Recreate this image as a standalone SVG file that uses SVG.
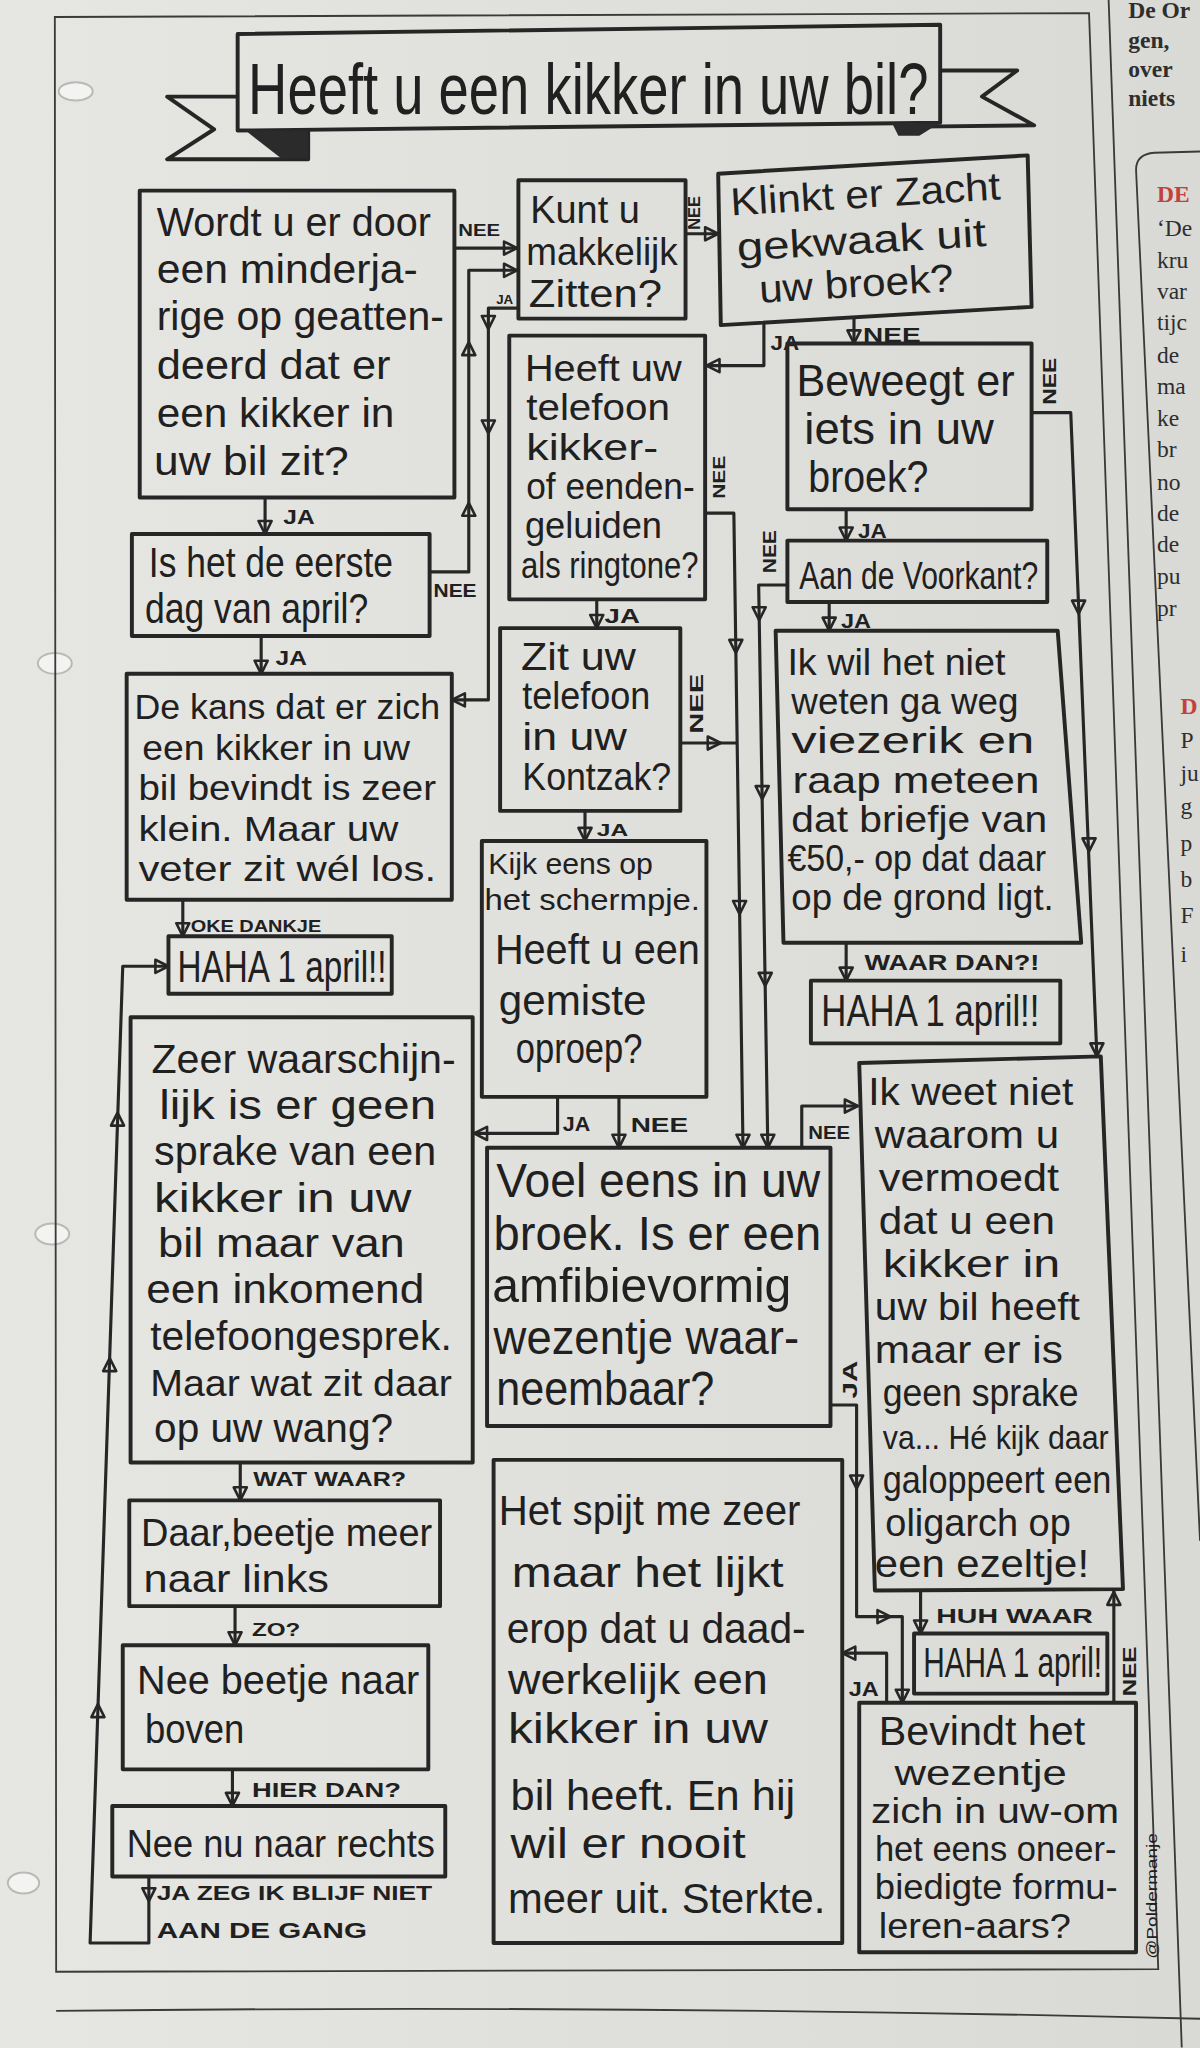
<svg xmlns="http://www.w3.org/2000/svg" xmlns:xlink="http://www.w3.org/1999/xlink" width="1200" height="2048" viewBox="0 0 1200 2048">
<style>
.box{fill:none;stroke:#262626;stroke-width:3;stroke-linejoin:round}
.ln{fill:none;stroke:#262626;stroke-width:2.4;stroke-linejoin:round}
.ah{fill:none;stroke:#262626;stroke-width:2;stroke-linejoin:round}
.thin{fill:none;stroke:#3a3a3a;stroke-width:1.4}
.t{font-family:"Liberation Sans","DejaVu Sans",sans-serif;fill:#202020}
.lb{font-family:"Liberation Sans","DejaVu Sans",sans-serif;font-weight:bold;fill:#202020}
.np{font-family:"Liberation Serif","DejaVu Serif",serif;fill:#2e2e2e}
.red{fill:#c4413b;font-weight:bold}
.hole{fill:#f3f3f1;stroke:#b9b9b5;stroke-width:1.5}
</style>
<defs>
<linearGradient id="paper" x1="0" y1="0" x2="1" y2="0">
<stop offset="0" stop-color="#e6e6e3"/>
<stop offset="1" stop-color="#d9d9d5"/>
</linearGradient>
<path id="ah" d="M0,0 L-5,-10 L5,-10 Z"/>
</defs>
<rect x="0" y="0" width="1200" height="2048" fill="url(#paper)"/>
<g transform="scale(1.3058)">
<g id="page">
<ellipse class="hole" cx="58" cy="70" rx="13" ry="7"/>
<ellipse class="hole" cx="42" cy="508" rx="13" ry="8"/>
<ellipse class="hole" cx="40" cy="945" rx="13" ry="8"/>
<ellipse class="hole" cx="18" cy="1442" rx="12" ry="8"/>
<path class="thin" d="M42,13 L834,10 L887,1508 L43,1510 Z"/>
<path class="thin" d="M849,0 L905,1568"/>
<path class="thin" d="M919,1180 L870,130 Q870,118 884,117 L919,116"/>
<path class="thin" d="M43,1540 Q480,1535 919,1546"/>
<text class="np" font-weight="bold" font-size="18"><tspan x="864" y="14">De Or</tspan><tspan x="864" y="37">gen,</tspan><tspan x="864" y="59">over</tspan><tspan x="864" y="81">niets</tspan></text>
<text class="np red" font-size="18" x="886" y="155">DE</text>
<text class="np" font-size="18"><tspan x="886" y="181">‘De</tspan><tspan x="886" y="205">kru</tspan><tspan x="886" y="229">var</tspan><tspan x="886" y="253">tijc</tspan><tspan x="886" y="278">de</tspan><tspan x="886" y="302">ma</tspan><tspan x="886" y="326">ke</tspan><tspan x="886" y="350">br</tspan><tspan x="886" y="375">no</tspan><tspan x="886" y="399">de</tspan><tspan x="886" y="423">de</tspan><tspan x="886" y="447">pu</tspan><tspan x="886" y="472">pr</tspan></text>
<text class="np red" font-size="18" x="904" y="547">D</text>
<text class="np" font-size="18"><tspan x="904" y="573">P</tspan><tspan x="904" y="598">ju</tspan><tspan x="904" y="623">g</tspan><tspan x="904" y="652">p</tspan><tspan x="904" y="679">b</tspan><tspan x="904" y="707">F</tspan><tspan x="904" y="737">i</tspan></text>
</g>
<g id="title">
<polygon class="box" points="182,26 720,19 720,94 182,100"/>
<polyline class="box" points="182,74 128,74 164,99 128,122 236,122 236,100"/>
<polygon points="188,100 236,100 236,121 215,121" fill="#2b2b2b"/>
<polyline class="box" points="720,54 779,54 752,74 792,96 705,97"/>
<polygon points="683,94 720,94 704,104 688,104" fill="#2b2b2b"/>
<text class="t" font-size="56" x="190" y="87" textLength="521" lengthAdjust="spacingAndGlyphs">Heeft u een kikker in uw bil?</text>
</g>
<g id="connectors">
<path class="ln" d="M348,190 H396"/>
<path class="ln" d="M329,438 H359 V207 H396"/>
<path class="ln" d="M397,236 H374 V536 H346"/>
<path class="ln" d="M203,381 V409"/>
<path class="ln" d="M200,487 V516"/>
<path class="ln" d="M140,689 V717"/>
<path class="ln" d="M114,1437 V1488 H69 L94,740 H129"/>
<path class="ln" d="M184,1120 V1149"/>
<path class="ln" d="M180,1230 V1260"/>
<path class="ln" d="M178,1355 V1383"/>
<path class="ln" d="M585,247 V280 H541"/>
<path class="ln" d="M654,243 V263"/>
<path class="ln" d="M525,179 H550"/>
<path class="ln" d="M790,316 H820 L840,809"/>
<path class="ln" d="M648,390 V414"/>
<path class="ln" d="M603,448 H581 L588,879"/>
<path class="ln" d="M635,461 V483"/>
<path class="ln" d="M648,722 V751"/>
<path class="ln" d="M540,393 H562 L569,879"/>
<path class="ln" d="M521,569 H564"/>
<path class="ln" d="M457,459 V481"/>
<path class="ln" d="M448,621 V644"/>
<path class="ln" d="M427,840 V868 H363"/>
<path class="ln" d="M474,840 V879"/>
<path class="ln" d="M614,879 V847 H657"/>
<path class="ln" d="M636,1076 H656 V1238 H691 V1304"/>
<path class="ln" d="M679,1304 V1266 H645"/>
<path class="ln" d="M705,1217 V1251"/>
<path class="ln" d="M853,1304 V1217"/>
<use xlink:href="#ah" class="ah" transform="translate(396,190) rotate(-90)"/>
<use xlink:href="#ah" class="ah" transform="translate(396,207) rotate(-90)"/>
<use xlink:href="#ah" class="ah" transform="translate(359,385) rotate(180)"/>
<use xlink:href="#ah" class="ah" transform="translate(359,262) rotate(180)"/>
<use xlink:href="#ah" class="ah" transform="translate(374,252)"/>
<use xlink:href="#ah" class="ah" transform="translate(374,332)"/>
<use xlink:href="#ah" class="ah" transform="translate(346,536) rotate(90)"/>
<use xlink:href="#ah" class="ah" transform="translate(203,409)"/>
<use xlink:href="#ah" class="ah" transform="translate(200,516)"/>
<use xlink:href="#ah" class="ah" transform="translate(140,717)"/>
<use xlink:href="#ah" class="ah" transform="translate(114,1456)"/>
<use xlink:href="#ah" class="ah" transform="translate(75,1305) rotate(180)"/>
<use xlink:href="#ah" class="ah" transform="translate(84,1040) rotate(180)"/>
<use xlink:href="#ah" class="ah" transform="translate(90,852) rotate(180)"/>
<use xlink:href="#ah" class="ah" transform="translate(129,740) rotate(-90)"/>
<use xlink:href="#ah" class="ah" transform="translate(184,1149)"/>
<use xlink:href="#ah" class="ah" transform="translate(180,1260)"/>
<use xlink:href="#ah" class="ah" transform="translate(178,1383)"/>
<use xlink:href="#ah" class="ah" transform="translate(541,280) rotate(90)"/>
<use xlink:href="#ah" class="ah" transform="translate(654,263)"/>
<use xlink:href="#ah" class="ah" transform="translate(550,179) rotate(-90)"/>
<use xlink:href="#ah" class="ah" transform="translate(826,470)"/>
<use xlink:href="#ah" class="ah" transform="translate(834,652)"/>
<use xlink:href="#ah" class="ah" transform="translate(840,809)"/>
<use xlink:href="#ah" class="ah" transform="translate(648,414)"/>
<use xlink:href="#ah" class="ah" transform="translate(581.4,475)"/>
<use xlink:href="#ah" class="ah" transform="translate(583.7,612)"/>
<use xlink:href="#ah" class="ah" transform="translate(586,755)"/>
<use xlink:href="#ah" class="ah" transform="translate(588,879)"/>
<use xlink:href="#ah" class="ah" transform="translate(635,483)"/>
<use xlink:href="#ah" class="ah" transform="translate(648,751)"/>
<use xlink:href="#ah" class="ah" transform="translate(563.5,500)"/>
<use xlink:href="#ah" class="ah" transform="translate(566.4,700)"/>
<use xlink:href="#ah" class="ah" transform="translate(569,879)"/>
<use xlink:href="#ah" class="ah" transform="translate(552,569) rotate(-90)"/>
<use xlink:href="#ah" class="ah" transform="translate(457,481)"/>
<use xlink:href="#ah" class="ah" transform="translate(448,644)"/>
<use xlink:href="#ah" class="ah" transform="translate(363,868) rotate(90)"/>
<use xlink:href="#ah" class="ah" transform="translate(474,879)"/>
<use xlink:href="#ah" class="ah" transform="translate(657,847) rotate(-90)"/>
<use xlink:href="#ah" class="ah" transform="translate(656,1140)"/>
<use xlink:href="#ah" class="ah" transform="translate(682,1238) rotate(-90)"/>
<use xlink:href="#ah" class="ah" transform="translate(691,1304)"/>
<use xlink:href="#ah" class="ah" transform="translate(645,1266) rotate(90)"/>
<use xlink:href="#ah" class="ah" transform="translate(705,1251)"/>
<use xlink:href="#ah" class="ah" transform="translate(853,1219) rotate(180)"/>
<text class="lb" font-size="13" x="351" y="181" textLength="32" lengthAdjust="spacingAndGlyphs">NEE</text>
<text class="lb" font-size="14" x="332" y="457" textLength="33" lengthAdjust="spacingAndGlyphs">NEE</text>
<text class="lb" font-size="10" x="380" y="233" textLength="13" lengthAdjust="spacingAndGlyphs">JA</text>
<text class="lb" font-size="15" x="217" y="401" textLength="24" lengthAdjust="spacingAndGlyphs">JA</text>
<text class="lb" font-size="15" x="211" y="509" textLength="24" lengthAdjust="spacingAndGlyphs">JA</text>
<text class="lb" font-size="12" x="146" y="714" textLength="100" lengthAdjust="spacingAndGlyphs">OKE DANKJE</text>
<text class="lb" font-size="15" x="120" y="1455" textLength="211" lengthAdjust="spacingAndGlyphs">JA ZEG IK BLIJF NIET</text>
<text class="lb" font-size="17" x="120" y="1484" textLength="161" lengthAdjust="spacingAndGlyphs">AAN DE GANG</text>
<text class="lb" font-size="15" x="194" y="1138" textLength="117" lengthAdjust="spacingAndGlyphs">WAT WAAR?</text>
<text class="lb" font-size="14" x="193" y="1253" textLength="37" lengthAdjust="spacingAndGlyphs">ZO?</text>
<text class="lb" font-size="15" x="193" y="1376" textLength="114" lengthAdjust="spacingAndGlyphs">HIER DAN?</text>
<text class="lb" font-size="15" x="590" y="268" textLength="22" lengthAdjust="spacingAndGlyphs">JA</text>
<text class="lb" font-size="15" x="661" y="262" textLength="44" lengthAdjust="spacingAndGlyphs">NEE</text>
<text class="lb" font-size="12" transform="translate(532,163) rotate(-90)" x="-13" y="4" textLength="26" lengthAdjust="spacingAndGlyphs">NEE</text>
<text class="lb" font-size="14" transform="translate(804,292) rotate(-90)" x="-18" y="5" textLength="36" lengthAdjust="spacingAndGlyphs">NEE</text>
<text class="lb" font-size="15" x="657" y="412" textLength="22" lengthAdjust="spacingAndGlyphs">JA</text>
<text class="lb" font-size="14" transform="translate(589,423) rotate(-90)" x="-16" y="5" textLength="33" lengthAdjust="spacingAndGlyphs">NEE</text>
<text class="lb" font-size="15" x="644" y="481" textLength="23" lengthAdjust="spacingAndGlyphs">JA</text>
<text class="lb" font-size="17" x="662" y="743" textLength="134" lengthAdjust="spacingAndGlyphs">WAAR DAN?!</text>
<text class="lb" font-size="13" transform="translate(550,366) rotate(-90)" x="-16" y="5" textLength="33" lengthAdjust="spacingAndGlyphs">NEE</text>
<text class="lb" font-size="14" transform="translate(533,539) rotate(-90)" x="-23" y="5" textLength="46" lengthAdjust="spacingAndGlyphs">NEE</text>
<text class="lb" font-size="15" x="463" y="477" textLength="27" lengthAdjust="spacingAndGlyphs">JA</text>
<text class="lb" font-size="13" x="457" y="640" textLength="24" lengthAdjust="spacingAndGlyphs">JA</text>
<text class="lb" font-size="15" x="431" y="866" textLength="21" lengthAdjust="spacingAndGlyphs">JA</text>
<text class="lb" font-size="16" x="483" y="867" textLength="44" lengthAdjust="spacingAndGlyphs">NEE</text>
<text class="lb" font-size="14" x="619" y="872" textLength="32" lengthAdjust="spacingAndGlyphs">NEE</text>
<text class="lb" font-size="15" transform="translate(651,1057) rotate(-90)" x="-14" y="5" textLength="29" lengthAdjust="spacingAndGlyphs">JA</text>
<text class="lb" font-size="15" x="650" y="1299" textLength="23" lengthAdjust="spacingAndGlyphs">JA</text>
<text class="lb" font-size="16" x="717" y="1243" textLength="120" lengthAdjust="spacingAndGlyphs">HUH WAAR</text>
<text class="lb" font-size="14" transform="translate(865,1280) rotate(-90)" x="-19" y="5" textLength="38" lengthAdjust="spacingAndGlyphs">NEE</text>
</g>
<g id="nodeA">
<rect class="box" x="107" y="146" width="241" height="235"/>
<text class="t" font-size="31" x="120" y="181" textLength="210" lengthAdjust="spacingAndGlyphs">Wordt u er door</text>
<text class="t" font-size="31" x="120" y="217" textLength="200" lengthAdjust="spacingAndGlyphs">een minderja-</text>
<text class="t" font-size="31" x="120" y="253" textLength="220" lengthAdjust="spacingAndGlyphs">rige op geatten-</text>
<text class="t" font-size="31" x="120" y="290" textLength="179" lengthAdjust="spacingAndGlyphs">deerd dat er</text>
<text class="t" font-size="31" x="120" y="327" textLength="182" lengthAdjust="spacingAndGlyphs">een kikker in</text>
<text class="t" font-size="31" x="118" y="364" textLength="149" lengthAdjust="spacingAndGlyphs">uw bil zit?</text>
</g>
<g id="nodeB">
<rect class="box" x="397" y="138" width="128" height="106"/>
<text class="t" font-size="30" x="406" y="171" textLength="84" lengthAdjust="spacingAndGlyphs">Kunt u</text>
<text class="t" font-size="30" x="403" y="203" textLength="116" lengthAdjust="spacingAndGlyphs">makkelijk</text>
<text class="t" font-size="30" x="405" y="235" textLength="102" lengthAdjust="spacingAndGlyphs">Zitten?</text>
</g>
<g id="nodeC">
<polygon class="box" points="550,133 787,119 790,235 552,249"/>
<g transform="rotate(-3.4 560 166)">
<text class="t" font-size="30" x="560" y="165" textLength="207" lengthAdjust="spacingAndGlyphs">Klinkt er Zacht</text>
<text class="t" font-size="30" x="563" y="200" textLength="191" lengthAdjust="spacingAndGlyphs">gekwaak uit</text>
<text class="t" font-size="30" x="578" y="233" textLength="149" lengthAdjust="spacingAndGlyphs">uw broek?</text>
</g>
</g>
<g id="nodeD">
<rect class="box" x="603" y="263" width="187" height="127"/>
<text class="t" font-size="34" x="610" y="303" textLength="167" lengthAdjust="spacingAndGlyphs">Beweegt er</text>
<text class="t" font-size="34" x="616" y="340" textLength="145" lengthAdjust="spacingAndGlyphs">iets in uw</text>
<text class="t" font-size="34" x="619" y="377" textLength="92" lengthAdjust="spacingAndGlyphs">broek?</text>
</g>
<g id="nodeE">
<rect class="box" x="390" y="257" width="150" height="202"/>
<text class="t" font-size="28.5" x="402" y="292" textLength="120" lengthAdjust="spacingAndGlyphs">Heeft uw</text>
<text class="t" font-size="28.5" x="403" y="322" textLength="110" lengthAdjust="spacingAndGlyphs">telefoon</text>
<text class="t" font-size="28.5" x="403" y="352" textLength="101" lengthAdjust="spacingAndGlyphs">kikker-</text>
<text class="t" font-size="28.5" x="403" y="382" textLength="129" lengthAdjust="spacingAndGlyphs">of eenden-</text>
<text class="t" font-size="28.5" x="402" y="412" textLength="105" lengthAdjust="spacingAndGlyphs">geluiden</text>
<text class="t" font-size="28.5" x="399" y="443" textLength="136" lengthAdjust="spacingAndGlyphs">als ringtone?</text>
</g>
<g id="nodeF">
<rect class="box" x="101" y="409" width="228" height="78"/>
<text class="t" font-size="32" x="114" y="442" textLength="187" lengthAdjust="spacingAndGlyphs">Is het de eerste</text>
<text class="t" font-size="32" x="111" y="477" textLength="171" lengthAdjust="spacingAndGlyphs">dag van april?</text>
</g>
<g id="nodeG">
<rect class="box" x="97" y="516" width="249" height="173"/>
<text class="t" font-size="27" x="103" y="551" textLength="234" lengthAdjust="spacingAndGlyphs">De kans dat er zich</text>
<text class="t" font-size="27" x="109" y="582" textLength="205" lengthAdjust="spacingAndGlyphs">een kikker in uw</text>
<text class="t" font-size="27" x="106" y="613" textLength="228" lengthAdjust="spacingAndGlyphs">bil bevindt is zeer</text>
<text class="t" font-size="27" x="106" y="644" textLength="199" lengthAdjust="spacingAndGlyphs">klein. Maar uw</text>
<text class="t" font-size="27" x="106" y="675" textLength="228" lengthAdjust="spacingAndGlyphs">veter zit wél los.</text>
</g>
<g id="nodeH">
<rect class="box" x="129" y="717" width="171" height="44"/>
<text class="t" font-size="34" x="136" y="752" textLength="160" lengthAdjust="spacingAndGlyphs">HAHA 1 april!!</text>
</g>
<g id="nodeI">
<rect class="box" x="100" y="779" width="262" height="341"/>
<text class="t" font-size="31" x="116" y="822" textLength="233" lengthAdjust="spacingAndGlyphs">Zeer waarschijn-</text>
<text class="t" font-size="31" x="122" y="857" textLength="212" lengthAdjust="spacingAndGlyphs">lijk is er geen</text>
<text class="t" font-size="31" x="118" y="892" textLength="216" lengthAdjust="spacingAndGlyphs">sprake van een</text>
<text class="t" font-size="31" x="118" y="928" textLength="197" lengthAdjust="spacingAndGlyphs">kikker in uw</text>
<text class="t" font-size="31" x="121" y="963" textLength="189" lengthAdjust="spacingAndGlyphs">bil maar van</text>
<text class="t" font-size="31" x="112" y="998" textLength="213" lengthAdjust="spacingAndGlyphs">een inkomend</text>
<text class="t" font-size="31" x="115" y="1034" textLength="231" lengthAdjust="spacingAndGlyphs">telefoongesprek.</text>
<text class="t" font-size="28" x="115" y="1069" textLength="231" lengthAdjust="spacingAndGlyphs">Maar wat zit daar</text>
<text class="t" font-size="31" x="118" y="1104" textLength="183" lengthAdjust="spacingAndGlyphs">op uw wang?</text>
</g>
<g id="nodeJ">
<rect class="box" x="99" y="1149" width="238" height="81"/>
<text class="t" font-size="30" x="108" y="1184" textLength="223" lengthAdjust="spacingAndGlyphs">Daar,beetje meer</text>
<text class="t" font-size="30" x="110" y="1219" textLength="142" lengthAdjust="spacingAndGlyphs">naar links</text>
</g>
<g id="nodeK">
<rect class="box" x="94" y="1260" width="234" height="95"/>
<text class="t" font-size="31" x="105" y="1297" textLength="216" lengthAdjust="spacingAndGlyphs">Nee beetje naar</text>
<text class="t" font-size="31" x="111" y="1335" textLength="76" lengthAdjust="spacingAndGlyphs">boven</text>
</g>
<g id="nodeL">
<rect class="box" x="86" y="1383" width="255" height="54"/>
<text class="t" font-size="29" x="97" y="1422" textLength="236" lengthAdjust="spacingAndGlyphs">Nee nu naar rechts</text>
</g>
<g id="nodeM">
<rect class="box" x="383" y="481" width="138" height="140"/>
<text class="t" font-size="29" x="399" y="513" textLength="88" lengthAdjust="spacingAndGlyphs">Zit uw</text>
<text class="t" font-size="29" x="400" y="543" textLength="98" lengthAdjust="spacingAndGlyphs">telefoon</text>
<text class="t" font-size="29" x="400" y="574" textLength="80" lengthAdjust="spacingAndGlyphs">in uw</text>
<text class="t" font-size="29" x="400" y="605" textLength="114" lengthAdjust="spacingAndGlyphs">Kontzak?</text>
</g>
<g id="nodeAan">
<rect class="box" x="603" y="414" width="199" height="47"/>
<text class="t" font-size="29" x="612" y="451" textLength="183" lengthAdjust="spacingAndGlyphs">Aan de Voorkant?</text>
</g>
<g id="nodeN">
<rect class="box" x="369" y="644" width="172" height="196"/>
<text class="t" font-size="23" x="374" y="669" textLength="126" lengthAdjust="spacingAndGlyphs">Kijk eens op</text>
<text class="t" font-size="23" x="371" y="697" textLength="165" lengthAdjust="spacingAndGlyphs">het schermpje.</text>
<text class="t" font-size="33" x="379" y="738" textLength="157" lengthAdjust="spacingAndGlyphs">Heeft u een</text>
<text class="t" font-size="33" x="382" y="777" textLength="113" lengthAdjust="spacingAndGlyphs">gemiste</text>
<text class="t" font-size="33" x="395" y="814" textLength="97" lengthAdjust="spacingAndGlyphs">oproep?</text>
</g>
<g id="nodeO">
<rect class="box" x="373" y="879" width="263" height="213"/>
<text class="t" font-size="37" x="380" y="917" textLength="248" lengthAdjust="spacingAndGlyphs">Voel eens in uw</text>
<text class="t" font-size="37" x="378" y="957" textLength="251" lengthAdjust="spacingAndGlyphs">broek. Is er een</text>
<text class="t" font-size="37" x="377" y="997" textLength="229" lengthAdjust="spacingAndGlyphs">amfibievormig</text>
<text class="t" font-size="37" x="378" y="1037" textLength="234" lengthAdjust="spacingAndGlyphs">wezentje waar-</text>
<text class="t" font-size="37" x="380" y="1076" textLength="167" lengthAdjust="spacingAndGlyphs">neembaar?</text>
</g>
<g id="nodeP">
<polygon class="box" points="594,483 810,483 828,722 600,722"/>
<text class="t" font-size="28.5" x="603" y="517" textLength="167" lengthAdjust="spacingAndGlyphs">Ik wil het niet</text>
<text class="t" font-size="28.5" x="606" y="547" textLength="174" lengthAdjust="spacingAndGlyphs">weten ga weg</text>
<text class="t" font-size="28.5" x="606" y="577" textLength="186" lengthAdjust="spacingAndGlyphs">viezerik en</text>
<text class="t" font-size="28.5" x="607" y="607" textLength="189" lengthAdjust="spacingAndGlyphs">raap meteen</text>
<text class="t" font-size="28.5" x="606" y="637" textLength="196" lengthAdjust="spacingAndGlyphs">dat briefje van</text>
<text class="t" font-size="28.5" x="603" y="667" textLength="198" lengthAdjust="spacingAndGlyphs">€50,- op dat daar</text>
<text class="t" font-size="28.5" x="606" y="697" textLength="201" lengthAdjust="spacingAndGlyphs">op de grond ligt.</text>
</g>
<g id="nodeQ">
<rect class="box" x="621" y="751" width="191" height="48"/>
<text class="t" font-size="34" x="629" y="786" textLength="167" lengthAdjust="spacingAndGlyphs">HAHA 1 april!!</text>
</g>
<g id="nodeR">
<polygon class="box" points="658,814 843,809 860,1217 670,1218"/>
<text class="t" font-size="30" x="665" y="846" textLength="157" lengthAdjust="spacingAndGlyphs">Ik weet niet</text>
<text class="t" font-size="30" x="670" y="879" textLength="141" lengthAdjust="spacingAndGlyphs">waarom u</text>
<text class="t" font-size="30" x="673" y="912" textLength="138" lengthAdjust="spacingAndGlyphs">vermoedt</text>
<text class="t" font-size="30" x="673" y="945" textLength="135" lengthAdjust="spacingAndGlyphs">dat u een</text>
<text class="t" font-size="30" x="676" y="978" textLength="136" lengthAdjust="spacingAndGlyphs">kikker in</text>
<text class="t" font-size="30" x="670" y="1011" textLength="157" lengthAdjust="spacingAndGlyphs">uw bil heeft</text>
<text class="t" font-size="30" x="670" y="1044" textLength="144" lengthAdjust="spacingAndGlyphs">maar er is</text>
<text class="t" font-size="30" x="676" y="1077" textLength="150" lengthAdjust="spacingAndGlyphs">geen sprake</text>
<text class="t" font-size="25" x="676" y="1110" textLength="173" lengthAdjust="spacingAndGlyphs">va... Hé kijk daar</text>
<text class="t" font-size="30" x="676" y="1143" textLength="175" lengthAdjust="spacingAndGlyphs">galoppeert een</text>
<text class="t" font-size="30" x="678" y="1176" textLength="142" lengthAdjust="spacingAndGlyphs">oligarch op</text>
<text class="t" font-size="30" x="670" y="1208" textLength="164" lengthAdjust="spacingAndGlyphs">een ezeltje!</text>
</g>
<g id="nodeS">
<rect class="box" x="700" y="1251" width="148" height="46"/>
<text class="t" font-size="32" x="707" y="1284" textLength="137" lengthAdjust="spacingAndGlyphs">HAHA 1 april!</text>
</g>
<g id="nodeT">
<rect class="box" x="658" y="1304" width="212" height="191"/>
<text class="t" font-size="31" x="673" y="1336" textLength="158" lengthAdjust="spacingAndGlyphs">Bevindt het</text>
<text class="t" font-size="27.5" x="685" y="1367" textLength="132" lengthAdjust="spacingAndGlyphs">wezentje</text>
<text class="t" font-size="27.5" x="667" y="1396" textLength="190" lengthAdjust="spacingAndGlyphs">zich in uw-om</text>
<text class="t" font-size="27.5" x="670" y="1425" textLength="185" lengthAdjust="spacingAndGlyphs">het eens oneer-</text>
<text class="t" font-size="27.5" x="670" y="1454" textLength="186" lengthAdjust="spacingAndGlyphs">biedigte formu-</text>
<text class="t" font-size="27.5" x="673" y="1484" textLength="147" lengthAdjust="spacingAndGlyphs">leren-aars?</text>
<text class="t" font-size="11" transform="translate(882,1452) rotate(-90)" x="-48" y="4" textLength="96" lengthAdjust="spacingAndGlyphs">@Poldermanje</text>
</g>
<g id="nodeU">
<rect class="box" x="378" y="1118" width="267" height="370"/>
<text class="t" font-size="33" x="382" y="1168" textLength="231" lengthAdjust="spacingAndGlyphs">Het spijt me zeer</text>
<text class="t" font-size="33" x="392" y="1215" textLength="208" lengthAdjust="spacingAndGlyphs">maar het lijkt</text>
<text class="t" font-size="33" x="388" y="1258" textLength="229" lengthAdjust="spacingAndGlyphs">erop dat u daad-</text>
<text class="t" font-size="33" x="389" y="1297" textLength="199" lengthAdjust="spacingAndGlyphs">werkelijk een</text>
<text class="t" font-size="33" x="389" y="1335" textLength="199" lengthAdjust="spacingAndGlyphs">kikker in uw</text>
<text class="t" font-size="33" x="391" y="1386" textLength="218" lengthAdjust="spacingAndGlyphs">bil heeft. En hij</text>
<text class="t" font-size="33" x="391" y="1423" textLength="180" lengthAdjust="spacingAndGlyphs">wil er nooit</text>
<text class="t" font-size="33" x="389" y="1465" textLength="243" lengthAdjust="spacingAndGlyphs">meer uit. Sterkte.</text>
</g>
</g>
</svg>
